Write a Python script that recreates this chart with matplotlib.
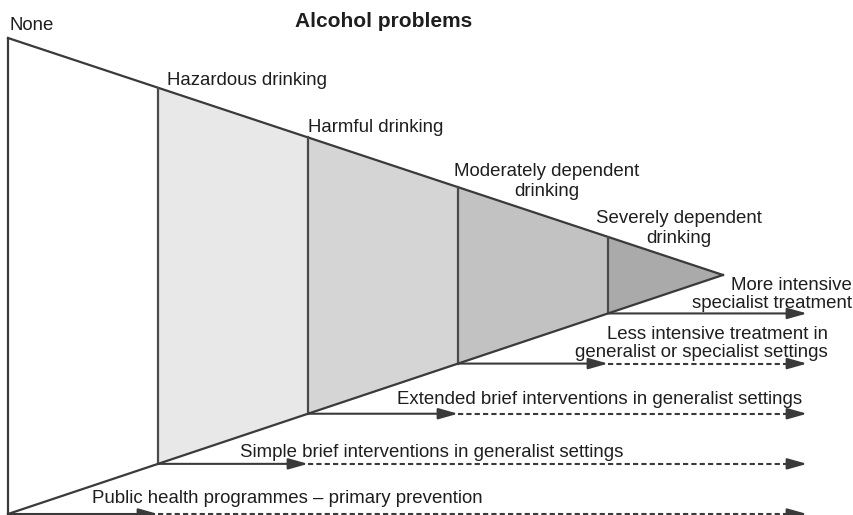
import matplotlib.pyplot as plt

plt.rcParams['font.family'] = ['Liberation Sans', 'DejaVu Sans']

# --- content -------------------------------------------------------------
title = 'Alcohol problems'
origin_label = 'None'
stage_labels = [
    'Hazardous drinking',
    'Harmful drinking',
    'Moderately dependent\ndrinking',
    'Severely dependent\ndrinking',
]
stage_shades = ['#e8e8e8', '#d5d5d5', '#c2c2c2', '#aaaaaa']
responses = [
    'Public health programmes \u2013 primary prevention',
    'Simple brief interventions in generalist settings',
    'Extended brief interventions in generalist settings',
    'Less intensive treatment in\ngeneralist or specialist settings',
    'More intensive\nspecialist treatment',
]

# --- layout (pixel space of an 854x515 canvas) -----------------------------
X0, X_TIP, X_END = 8, 723, 807
Y_TOP, Y_BOT, Y_TIP = 38, 514, 275
STEP = 150
LINE = '#3a3a3a'
TEXT = '#1e1e1e'
FS = 13.4


def top(x):
    return Y_TOP + (x - X0) / (X_TIP - X0) * (Y_TIP - Y_TOP)


def bot(x):
    return Y_BOT - (x - X0) / (X_TIP - X0) * (Y_BOT - Y_TIP)


fig = plt.figure(figsize=(8.54, 5.15), dpi=100)
ax = fig.add_axes([0, 0, 1, 1])
ax.set_xlim(0, 854)
ax.set_ylim(515, 0)
ax.axis('off')

# stage boundaries along the funnel
xs = [X0 + STEP * (i + 1) for i in range(len(stage_labels))]
edges = xs + [X_TIP]

# shaded sections
for i, shade in enumerate(stage_shades):
    a, b = edges[i], edges[i + 1]
    ax.fill([a, b, b, a], [top(a), top(b), bot(b), bot(a)],
            color=shade, lw=0, zorder=1)

# funnel outline
ax.plot([X0, X0], [Y_TOP, Y_BOT], color=LINE, lw=1.6, zorder=3)
ax.plot([X0, X_TIP], [Y_TOP, Y_TIP], color=LINE, lw=1.6, zorder=3)
ax.plot([X0, X_TIP], [Y_BOT, Y_TIP], color=LINE, lw=1.6, zorder=3)
for x in xs:
    ax.plot([x, x], [top(x), bot(x)], color='#4a4a4a', lw=1.6, zorder=3)

# stage labels
ax.text(10, 30, origin_label, fontsize=FS, color=TEXT, va='baseline')
ax.text(384, 27, title, fontsize=15, fontweight='bold', color=TEXT,
        ha='center', va='baseline')
ax.text(167, 85, stage_labels[0], fontsize=FS, color=TEXT, va='baseline')
ax.text(308, 132, stage_labels[1], fontsize=FS, color=TEXT, va='baseline')
ax.text(547, 196, stage_labels[2], fontsize=FS, color=TEXT, ha='center',
        va='baseline', linespacing=1.25)
ax.text(679, 243, stage_labels[3], fontsize=FS, color=TEXT, ha='center',
        va='baseline', linespacing=1.25)

# response arrows: solid while in the stage, dashed beyond it
head = dict(arrowstyle='-|>,head_length=0.85,head_width=0.24', color=LINE,
            lw=1.5, mutation_scale=14, shrinkA=0, shrinkB=0)
starts = [X0] + xs
for i, x in enumerate(starts):
    y = bot(x)
    if i < len(xs):
        mid = xs[i]
        ax.annotate('', xy=(mid, y), xytext=(x, y), arrowprops=head, zorder=4)
        ax.plot([mid, X_END - 10], [y, y], color=LINE, lw=1.5,
                ls=(0, (2.5, 1.5)), zorder=4)
        ax.annotate('', xy=(X_END, y), xytext=(X_END - 12, y),
                    arrowprops=head, zorder=4)
    else:
        ax.annotate('', xy=(X_END, y), xytext=(x, y), arrowprops=head,
                    zorder=4)

ax.text(92, 503, responses[0], fontsize=FS, color=TEXT, va='baseline')
ax.text(240, 457, responses[1], fontsize=FS, color=TEXT, va='baseline')
ax.text(397, 404, responses[2], fontsize=FS, color=TEXT, va='baseline')
ax.text(828, 357, responses[3], fontsize=FS, color=TEXT, ha='right',
        va='baseline', linespacing=1.1)
ax.text(852, 308, responses[4], fontsize=FS, color=TEXT, ha='right',
        va='baseline', linespacing=1.1)

fig.savefig('out.png', dpi=100)
